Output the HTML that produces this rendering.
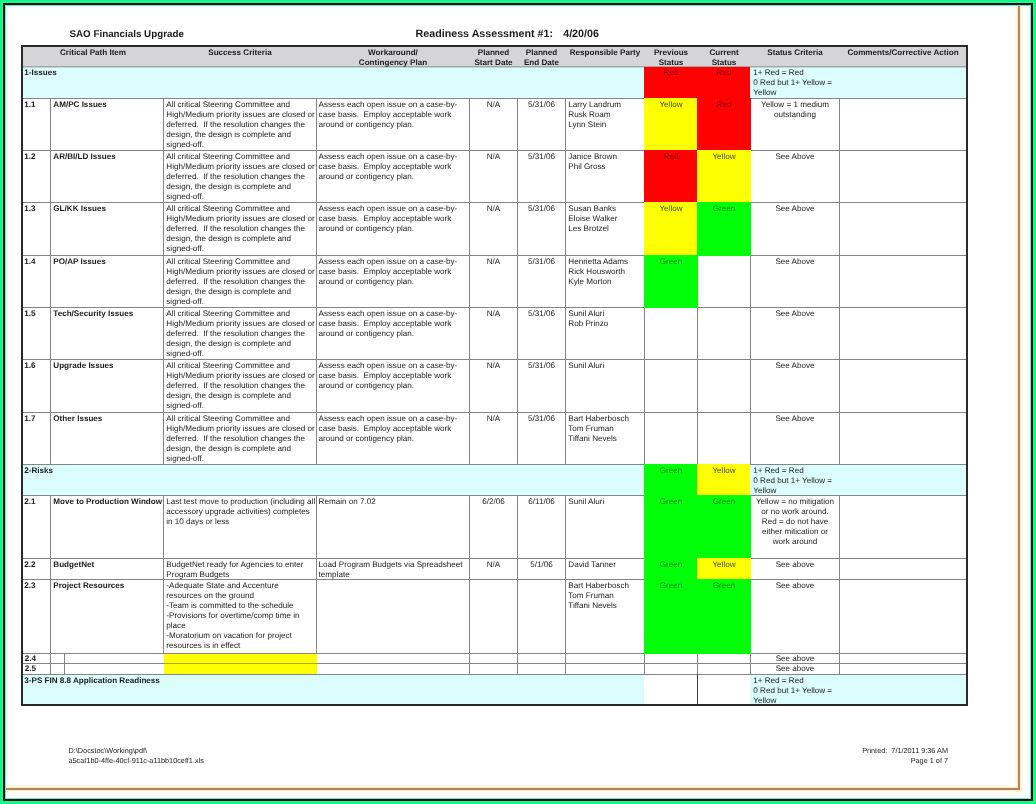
<!DOCTYPE html>
<html><head><meta charset="utf-8"><title>SAO Financials Upgrade - Readiness Assessment</title>
<style>
html,body{margin:0;padding:0;}
body{width:1036px;height:804px;background:#00ff7c;position:relative;overflow:hidden;font-family:"Liberation Sans", Arial, Helvetica, sans-serif;font-size:8.1px;line-height:10.0px;color:#1a1a1a;}
#pg{position:absolute;left:3px;top:3px;width:1026px;height:794px;border:2px solid #001a08;background:#fff;}
#c{position:absolute;left:0;top:0;width:1036px;height:804px;will-change:transform;text-rendering:geometricPrecision;}
#c div{position:absolute;}
#c p{position:absolute;margin:0;white-space:nowrap;}
</style></head>
<body>
<div id="pg"></div>
<div id="c">
<div style="left:1px;top:1px;width:1034px;height:802px;box-sizing:border-box;border:1px solid #1ff08a"></div>
<div style="left:2px;top:2px;width:1032px;height:800px;box-sizing:border-box;border:1px solid #45e89c"></div>
<div style="left:5px;top:5px;width:1026px;height:794px;box-sizing:border-box;border:1px solid #80e0e0"></div>
<div style="left:6px;top:6px;width:1024px;height:792px;box-sizing:border-box;border:1px solid #e6fdfd"></div>
<div style="left:1014px;top:6px;width:9px;height:787px;background:#fffaea"></div>
<div style="left:6px;top:785px;width:1017px;height:8px;background:#fffaea"></div>
<div style="left:1017px;top:6px;width:4px;height:786px;background:#fde9c8"></div>
<div style="left:6px;top:787px;width:1015px;height:4px;background:#fde9c8"></div>
<div style="left:1018px;top:6px;width:2px;height:784px;background:#b3855c"></div>
<div style="left:6px;top:788px;width:1014px;height:2px;background:#b3855c"></div>
<div style="left:21px;top:45px;width:945px;height:21px;background:#d5d5d7"></div>
<div style="left:21px;top:66px;width:945px;height:32px;background:#dcfdfd"></div>
<div style="left:21px;top:464px;width:945px;height:31px;background:#dcfdfd"></div>
<div style="left:21px;top:674px;width:945px;height:30px;background:#dcfdfd"></div>
<div style="left:21px;top:66px;width:945px;height:1px;background:#98a8ab"></div>
<div style="left:21px;top:67px;width:945px;height:1px;background:#c4d4d6"></div>
<div style="left:21px;top:98px;width:945px;height:1px;background:#858585"></div>
<div style="left:21px;top:150px;width:945px;height:1px;background:#858585"></div>
<div style="left:21px;top:202px;width:945px;height:1px;background:#858585"></div>
<div style="left:21px;top:255px;width:945px;height:1px;background:#858585"></div>
<div style="left:21px;top:307px;width:945px;height:1px;background:#858585"></div>
<div style="left:21px;top:359px;width:945px;height:1px;background:#858585"></div>
<div style="left:21px;top:412px;width:945px;height:1px;background:#858585"></div>
<div style="left:21px;top:464px;width:945px;height:1px;background:#858585"></div>
<div style="left:21px;top:495px;width:945px;height:1px;background:#858585"></div>
<div style="left:21px;top:558px;width:945px;height:1px;background:#858585"></div>
<div style="left:21px;top:579px;width:945px;height:1px;background:#858585"></div>
<div style="left:21px;top:653px;width:945px;height:1px;background:#858585"></div>
<div style="left:21px;top:663px;width:945px;height:1px;background:#858585"></div>
<div style="left:21px;top:674px;width:945px;height:1px;background:#858585"></div>
<div style="left:50px;top:98px;width:1px;height:366px;background:#858585"></div>
<div style="left:163px;top:98px;width:1px;height:366px;background:#858585"></div>
<div style="left:316px;top:98px;width:1px;height:366px;background:#858585"></div>
<div style="left:469px;top:98px;width:1px;height:366px;background:#858585"></div>
<div style="left:517px;top:98px;width:1px;height:366px;background:#858585"></div>
<div style="left:565px;top:98px;width:1px;height:366px;background:#858585"></div>
<div style="left:644px;top:98px;width:1px;height:366px;background:#858585"></div>
<div style="left:697px;top:98px;width:1px;height:366px;background:#858585"></div>
<div style="left:750px;top:98px;width:1px;height:366px;background:#858585"></div>
<div style="left:839px;top:98px;width:1px;height:366px;background:#858585"></div>
<div style="left:50px;top:495px;width:1px;height:158px;background:#858585"></div>
<div style="left:163px;top:495px;width:1px;height:158px;background:#858585"></div>
<div style="left:316px;top:495px;width:1px;height:158px;background:#858585"></div>
<div style="left:469px;top:495px;width:1px;height:158px;background:#858585"></div>
<div style="left:517px;top:495px;width:1px;height:158px;background:#858585"></div>
<div style="left:565px;top:495px;width:1px;height:158px;background:#858585"></div>
<div style="left:644px;top:495px;width:1px;height:158px;background:#858585"></div>
<div style="left:697px;top:495px;width:1px;height:158px;background:#858585"></div>
<div style="left:750px;top:495px;width:1px;height:158px;background:#858585"></div>
<div style="left:839px;top:495px;width:1px;height:158px;background:#858585"></div>
<div style="left:50px;top:653px;width:1px;height:21px;background:#858585"></div>
<div style="left:469px;top:653px;width:1px;height:21px;background:#858585"></div>
<div style="left:517px;top:653px;width:1px;height:21px;background:#858585"></div>
<div style="left:565px;top:653px;width:1px;height:21px;background:#858585"></div>
<div style="left:644px;top:653px;width:1px;height:21px;background:#858585"></div>
<div style="left:697px;top:653px;width:1px;height:21px;background:#858585"></div>
<div style="left:750px;top:653px;width:1px;height:21px;background:#858585"></div>
<div style="left:839px;top:653px;width:1px;height:21px;background:#858585"></div>
<div style="left:64px;top:653px;width:1px;height:21px;background:#858585"></div>
<div style="left:697px;top:674px;width:1px;height:30px;background:#858585"></div>
<div style="left:644px;top:675px;width:106px;height:29px;background:#fff"></div>
<div style="left:697px;top:674px;width:1px;height:30px;background:#444"></div>
<div style="left:644px;top:67px;width:54px;height:32px;background:#fe0202"></div>
<div style="left:697px;top:67px;width:53px;height:32px;background:#fe0202"></div>
<div style="left:644px;top:98px;width:54px;height:53px;background:#ffff04"></div>
<div style="left:697px;top:98px;width:54px;height:53px;background:#fe0202"></div>
<div style="left:644px;top:150px;width:54px;height:53px;background:#fe0202"></div>
<div style="left:697px;top:150px;width:54px;height:53px;background:#ffff04"></div>
<div style="left:644px;top:202px;width:54px;height:54px;background:#ffff04"></div>
<div style="left:697px;top:202px;width:54px;height:54px;background:#02ff0a"></div>
<div style="left:644px;top:255px;width:54px;height:53px;background:#02ff0a"></div>
<div style="left:644px;top:464px;width:54px;height:32px;background:#02ff0a"></div>
<div style="left:697px;top:464px;width:53px;height:32px;background:#ffff04"></div>
<div style="left:644px;top:495px;width:54px;height:64px;background:#02ff0a"></div>
<div style="left:697px;top:495px;width:54px;height:64px;background:#02ff0a"></div>
<div style="left:644px;top:558px;width:54px;height:22px;background:#02ff0a"></div>
<div style="left:697px;top:558px;width:54px;height:22px;background:#ffff04"></div>
<div style="left:644px;top:579px;width:54px;height:75px;background:#02ff0a"></div>
<div style="left:697px;top:579px;width:54px;height:75px;background:#02ff0a"></div>
<div style="left:164px;top:654px;width:153px;height:20px;background:#ffff04"></div>
<div style="left:164px;top:663px;width:153px;height:1px;background:#a8a800"></div>
<div style="left:21px;top:45px;width:947px;height:2px;background:#2a2a2a"></div>
<div style="left:21px;top:704px;width:947px;height:2px;background:#2a2a2a"></div>
<div style="left:21px;top:45px;width:2px;height:661px;background:#2a2a2a"></div>
<div style="left:966px;top:45px;width:2px;height:661px;background:#2a2a2a"></div>
<p style="left:69.5px;top:28.5px;width:200px;text-align:left;font-weight:bold;font-size:9.8px;line-height:12px;">SAO Financials Upgrade</p>
<p style="left:415.6px;top:28.1px;width:300px;text-align:left;font-weight:bold;font-size:10.7px;line-height:12px;">Readiness Assessment #1:</p>
<p style="left:563.2px;top:28.1px;width:60px;text-align:left;font-weight:bold;font-size:10.7px;line-height:12px;">4/20/06</p>
<p style="left:23px;top:47.8px;width:140px;text-align:center;font-weight:bold;color:#1a1a1a;line-height:10.4px;">Critical Path Item</p>
<p style="left:164px;top:47.8px;width:152px;text-align:center;font-weight:bold;color:#1a1a1a;line-height:10.4px;">Success Criteria</p>
<p style="left:317px;top:47.8px;width:152px;text-align:center;font-weight:bold;color:#1a1a1a;line-height:10.4px;">Workaround/<br>Contingency Plan</p>
<p style="left:470px;top:47.8px;width:47px;text-align:center;font-weight:bold;color:#1a1a1a;line-height:10.4px;">Planned<br>Start Date</p>
<p style="left:518px;top:47.8px;width:47px;text-align:center;font-weight:bold;color:#1a1a1a;line-height:10.4px;">Planned<br>End Date</p>
<p style="left:566px;top:47.8px;width:78px;text-align:center;font-weight:bold;color:#1a1a1a;line-height:10.4px;">Responsible Party</p>
<p style="left:645px;top:47.8px;width:52px;text-align:center;font-weight:bold;color:#1a1a1a;line-height:10.4px;">Previous<br>Status</p>
<p style="left:698px;top:47.8px;width:52px;text-align:center;font-weight:bold;color:#1a1a1a;line-height:10.4px;">Current<br>Status</p>
<p style="left:751px;top:47.8px;width:88px;text-align:center;font-weight:bold;color:#1a1a1a;line-height:10.4px;">Status Criteria</p>
<p style="left:840px;top:47.8px;width:126px;text-align:center;font-weight:bold;color:#1a1a1a;line-height:10.4px;">Comments/Corrective Action</p>
<p style="left:24.3px;top:99.9px;width:25.7px;text-align:left;font-weight:bold;">1.1</p>
<p style="left:53.3px;top:99.9px;width:109.7px;text-align:left;font-weight:bold;">AM/PC Issues</p>
<p style="left:166.3px;top:99.9px;width:149.7px;text-align:left;">All critical Steering Committee and<br>High/Medium priority issues are closed or<br>deferred.&nbsp; If the resolution changes the<br>design, the design is complete and<br>signed-off.</p>
<p style="left:318.6px;top:99.9px;width:150.4px;text-align:left;">Assess each open issue on a case-by-<br>case basis.&nbsp; Employ acceptable work<br>around or contigency plan.</p>
<p style="left:470px;top:99.9px;width:47px;text-align:center;">N/A</p>
<p style="left:518px;top:99.9px;width:47px;text-align:center;">5/31/06</p>
<p style="left:568.3px;top:99.9px;width:75.7px;text-align:left;">Larry Landrum<br>Rusk Roam<br>Lynn Stein</p>
<p style="left:645px;top:99.9px;width:52px;text-align:center;color:#4a4a10;">Yellow</p>
<p style="left:698px;top:99.9px;width:52px;text-align:center;color:#7a0000;">Red</p>
<p style="left:751px;top:99.9px;width:88px;text-align:center;">Yellow = 1 medium<br>outstanding</p>
<p style="left:24.3px;top:151.9px;width:25.7px;text-align:left;font-weight:bold;">1.2</p>
<p style="left:53.3px;top:151.9px;width:109.7px;text-align:left;font-weight:bold;">AR/BI/LD Issues</p>
<p style="left:166.3px;top:151.9px;width:149.7px;text-align:left;">All critical Steering Committee and<br>High/Medium priority issues are closed or<br>deferred.&nbsp; If the resolution changes the<br>design, the design is complete and<br>signed-off.</p>
<p style="left:318.6px;top:151.9px;width:150.4px;text-align:left;">Assess each open issue on a case-by-<br>case basis.&nbsp; Employ acceptable work<br>around or contigency plan.</p>
<p style="left:470px;top:151.9px;width:47px;text-align:center;">N/A</p>
<p style="left:518px;top:151.9px;width:47px;text-align:center;">5/31/06</p>
<p style="left:568.3px;top:151.9px;width:75.7px;text-align:left;">Janice Brown<br>Phil Gross</p>
<p style="left:645px;top:151.9px;width:52px;text-align:center;color:#7a0000;">Red</p>
<p style="left:698px;top:151.9px;width:52px;text-align:center;color:#4a4a10;">Yellow</p>
<p style="left:751px;top:151.9px;width:88px;text-align:center;">See Above</p>
<p style="left:24.3px;top:203.9px;width:25.7px;text-align:left;font-weight:bold;">1.3</p>
<p style="left:53.3px;top:203.9px;width:109.7px;text-align:left;font-weight:bold;">GL/KK Issues</p>
<p style="left:166.3px;top:203.9px;width:149.7px;text-align:left;">All critical Steering Committee and<br>High/Medium priority issues are closed or<br>deferred.&nbsp; If the resolution changes the<br>design, the design is complete and<br>signed-off.</p>
<p style="left:318.6px;top:203.9px;width:150.4px;text-align:left;">Assess each open issue on a case-by-<br>case basis.&nbsp; Employ acceptable work<br>around or contigency plan.</p>
<p style="left:470px;top:203.9px;width:47px;text-align:center;">N/A</p>
<p style="left:518px;top:203.9px;width:47px;text-align:center;">5/31/06</p>
<p style="left:568.3px;top:203.9px;width:75.7px;text-align:left;">Susan Banks<br>Eloise Walker<br>Les Brotzel</p>
<p style="left:645px;top:203.9px;width:52px;text-align:center;color:#4a4a10;">Yellow</p>
<p style="left:698px;top:203.9px;width:52px;text-align:center;color:#008a00;">Green</p>
<p style="left:751px;top:203.9px;width:88px;text-align:center;">See Above</p>
<p style="left:24.3px;top:256.9px;width:25.7px;text-align:left;font-weight:bold;">1.4</p>
<p style="left:53.3px;top:256.9px;width:109.7px;text-align:left;font-weight:bold;">PO/AP Issues</p>
<p style="left:166.3px;top:256.9px;width:149.7px;text-align:left;">All critical Steering Committee and<br>High/Medium priority issues are closed or<br>deferred.&nbsp; If the resolution changes the<br>design, the design is complete and<br>signed-off.</p>
<p style="left:318.6px;top:256.9px;width:150.4px;text-align:left;">Assess each open issue on a case-by-<br>case basis.&nbsp; Employ acceptable work<br>around or contigency plan.</p>
<p style="left:470px;top:256.9px;width:47px;text-align:center;">N/A</p>
<p style="left:518px;top:256.9px;width:47px;text-align:center;">5/31/06</p>
<p style="left:568.3px;top:256.9px;width:75.7px;text-align:left;">Henrietta Adams<br>Rick Housworth<br>Kyle Morton</p>
<p style="left:645px;top:256.9px;width:52px;text-align:center;color:#008a00;">Green</p>
<p style="left:751px;top:256.9px;width:88px;text-align:center;">See Above</p>
<p style="left:24.3px;top:308.9px;width:25.7px;text-align:left;font-weight:bold;">1.5</p>
<p style="left:53.3px;top:308.9px;width:109.7px;text-align:left;font-weight:bold;">Tech/Security Issues</p>
<p style="left:166.3px;top:308.9px;width:149.7px;text-align:left;">All critical Steering Committee and<br>High/Medium priority issues are closed or<br>deferred.&nbsp; If the resolution changes the<br>design, the design is complete and<br>signed-off.</p>
<p style="left:318.6px;top:308.9px;width:150.4px;text-align:left;">Assess each open issue on a case-by-<br>case basis.&nbsp; Employ acceptable work<br>around or contigency plan.</p>
<p style="left:470px;top:308.9px;width:47px;text-align:center;">N/A</p>
<p style="left:518px;top:308.9px;width:47px;text-align:center;">5/31/06</p>
<p style="left:568.3px;top:308.9px;width:75.7px;text-align:left;">Sunil Aluri<br>Rob Prinzo</p>
<p style="left:751px;top:308.9px;width:88px;text-align:center;">See Above</p>
<p style="left:24.3px;top:360.9px;width:25.7px;text-align:left;font-weight:bold;">1.6</p>
<p style="left:53.3px;top:360.9px;width:109.7px;text-align:left;font-weight:bold;">Upgrade Issues</p>
<p style="left:166.3px;top:360.9px;width:149.7px;text-align:left;">All critical Steering Committee and<br>High/Medium priority issues are closed or<br>deferred.&nbsp; If the resolution changes the<br>design, the design is complete and<br>signed-off.</p>
<p style="left:318.6px;top:360.9px;width:150.4px;text-align:left;">Assess each open issue on a case-by-<br>case basis.&nbsp; Employ acceptable work<br>around or contigency plan.</p>
<p style="left:470px;top:360.9px;width:47px;text-align:center;">N/A</p>
<p style="left:518px;top:360.9px;width:47px;text-align:center;">5/31/06</p>
<p style="left:568.3px;top:360.9px;width:75.7px;text-align:left;">Sunil Aluri</p>
<p style="left:751px;top:360.9px;width:88px;text-align:center;">See Above</p>
<p style="left:24.3px;top:413.9px;width:25.7px;text-align:left;font-weight:bold;">1.7</p>
<p style="left:53.3px;top:413.9px;width:109.7px;text-align:left;font-weight:bold;">Other Issues</p>
<p style="left:166.3px;top:413.9px;width:149.7px;text-align:left;">All critical Steering Committee and<br>High/Medium priority issues are closed or<br>deferred.&nbsp; If the resolution changes the<br>design, the design is complete and<br>signed-off.</p>
<p style="left:318.6px;top:413.9px;width:150.4px;text-align:left;">Assess each open issue on a case-by-<br>case basis.&nbsp; Employ acceptable work<br>around or contigency plan.</p>
<p style="left:470px;top:413.9px;width:47px;text-align:center;">N/A</p>
<p style="left:518px;top:413.9px;width:47px;text-align:center;">5/31/06</p>
<p style="left:568.3px;top:413.9px;width:75.7px;text-align:left;">Bart Haberbosch<br>Tom Fruman<br>Tiffani Nevels</p>
<p style="left:751px;top:413.9px;width:88px;text-align:center;">See Above</p>
<p style="left:24.3px;top:67.9px;width:138.7px;text-align:left;font-weight:bold;">1-Issues</p>
<p style="left:645px;top:67.9px;width:52px;text-align:center;color:#7a0000;">Red</p>
<p style="left:698px;top:67.9px;width:52px;text-align:center;color:#7a0000;">Red</p>
<p style="left:753.3px;top:67.9px;width:212.7px;text-align:left;">1+ Red = Red<br>0 Red but 1+ Yellow =<br>Yellow</p>
<p style="left:24.3px;top:465.9px;width:138.7px;text-align:left;font-weight:bold;">2-Risks</p>
<p style="left:645px;top:465.9px;width:52px;text-align:center;color:#008a00;">Green</p>
<p style="left:698px;top:465.9px;width:52px;text-align:center;color:#4a4a10;">Yellow</p>
<p style="left:753.3px;top:465.9px;width:212.7px;text-align:left;">1+ Red = Red<br>0 Red but 1+ Yellow =<br>Yellow</p>
<p style="left:24.3px;top:675.9px;width:619.7px;text-align:left;font-weight:bold;">3-PS FIN 8.8 Application Readiness</p>
<p style="left:753.3px;top:675.9px;width:212.7px;text-align:left;">1+ Red = Red<br>0 Red but 1+ Yellow =<br>Yellow</p>
<p style="left:24.3px;top:496.9px;width:25.7px;text-align:left;font-weight:bold;">2.1</p>
<p style="left:53.3px;top:496.9px;width:109.7px;text-align:left;font-weight:bold;">Move to Production Window</p>
<p style="left:166.3px;top:496.9px;width:149.7px;text-align:left;">Last test move to production (including all<br>accessory upgrade activities) completes<br>in 10 days or less</p>
<p style="left:318.6px;top:496.9px;width:150.4px;text-align:left;">Remain on 7.02</p>
<p style="left:470px;top:496.9px;width:47px;text-align:center;">6/2/06</p>
<p style="left:518px;top:496.9px;width:47px;text-align:center;">6/11/06</p>
<p style="left:568.3px;top:496.9px;width:75.7px;text-align:left;">Sunil Aluri</p>
<p style="left:645px;top:496.9px;width:52px;text-align:center;color:#008a00;">Green</p>
<p style="left:698px;top:496.9px;width:52px;text-align:center;color:#008a00;">Green</p>
<p style="left:751px;top:496.9px;width:88px;text-align:center;">Yellow = no mitigation<br>or no work around.<br>Red = do not have<br>either mitication or<br>work around</p>
<p style="left:24.3px;top:559.9px;width:25.7px;text-align:left;font-weight:bold;">2.2</p>
<p style="left:53.3px;top:559.9px;width:109.7px;text-align:left;font-weight:bold;">BudgetNet</p>
<p style="left:166.3px;top:559.9px;width:149.7px;text-align:left;">BudgetNet ready for Agencies to enter<br>Program Budgets</p>
<p style="left:318.6px;top:559.9px;width:150.4px;text-align:left;">Load Program Budgets via Spreadsheet<br>template</p>
<p style="left:470px;top:559.9px;width:47px;text-align:center;">N/A</p>
<p style="left:518px;top:559.9px;width:47px;text-align:center;">5/1/06</p>
<p style="left:568.3px;top:559.9px;width:75.7px;text-align:left;">David Tanner</p>
<p style="left:645px;top:559.9px;width:52px;text-align:center;color:#008a00;">Green</p>
<p style="left:698px;top:559.9px;width:52px;text-align:center;color:#4a4a10;">Yellow</p>
<p style="left:751px;top:559.9px;width:88px;text-align:center;">See above</p>
<p style="left:24.3px;top:580.9px;width:25.7px;text-align:left;font-weight:bold;">2.3</p>
<p style="left:53.3px;top:580.9px;width:109.7px;text-align:left;font-weight:bold;">Project Resources</p>
<p style="left:166.3px;top:580.9px;width:149.7px;text-align:left;">-Adequate State and Accenture<br>resources on the ground<br>-Team is committed to the schedule<br>-Provisions for overtime/comp time in<br>place<br>-Moratorium on vacation for project<br>resources is in effect</p>
<p style="left:568.3px;top:580.9px;width:75.7px;text-align:left;">Bart Haberbosch<br>Tom Fruman<br>Tiffani Nevels</p>
<p style="left:645px;top:580.9px;width:52px;text-align:center;color:#008a00;">Green</p>
<p style="left:698px;top:580.9px;width:52px;text-align:center;color:#008a00;">Green</p>
<p style="left:751px;top:580.9px;width:88px;text-align:center;">See above</p>
<p style="left:24.8px;top:654.2px;width:30px;text-align:left;font-weight:bold;line-height:10px;">2.4</p>
<p style="left:751px;top:653.7px;width:88px;text-align:center;line-height:10px;">See above</p>
<p style="left:24.8px;top:664.2px;width:30px;text-align:left;font-weight:bold;line-height:10px;">2.5</p>
<p style="left:751px;top:663.7px;width:88px;text-align:center;line-height:10px;">See above</p>
<p style="left:68.5px;top:745.8px;width:300px;text-align:left;color:#222;font-size:7.3px;line-height:10.1px;">D:\Docstoc\Working\pdf\<br>a5caf1b0-4ffe-40cf-911c-a11bb10ceff1.xls</p>
<p style="left:748px;top:745.8px;width:200px;text-align:right;color:#222;font-size:7.3px;line-height:10.1px;">Printed:&nbsp; 7/1/2011 9:36 AM<br>Page 1 of 7</p>
</div>
</body></html>
